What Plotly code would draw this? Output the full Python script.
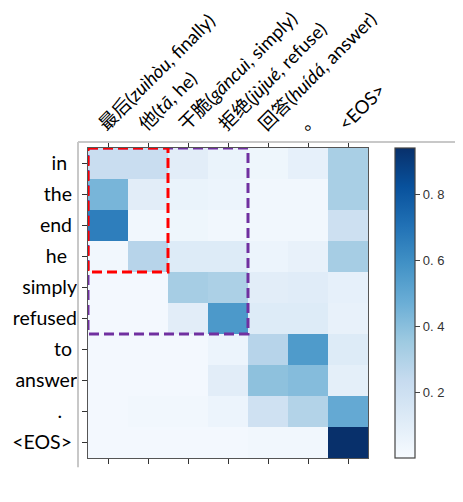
import plotly.graph_objects as go

src_labels = [
    "最后(<i>zuìhòu</i>, finally)",
    "他(<i>tā</i>, he)",
    "干脆(<i>gāncuì</i>, simply)",
    "拒绝(<i>jùjué</i>, refuse)",
    "回答(<i>huídá</i>, answer)",
    "。",
    "&lt;EOS&gt;",
]
tgt_labels = ["in&nbsp;&nbsp;", "the&nbsp;", "end&nbsp;", "he&nbsp;&nbsp;", "simply", "refused",
              "to&nbsp;", "answer", ".&nbsp;&nbsp;&nbsp;", "&lt;EOS&gt;&nbsp;"]

attention = [
    [0.22, 0.22, 0.10, 0.06, 0.04, 0.08, 0.32],
    [0.44, 0.10, 0.06, 0.05, 0.03, 0.03, 0.32],
    [0.66, 0.03, 0.04, 0.03, 0.03, 0.03, 0.20],
    [0.03, 0.28, 0.12, 0.12, 0.05, 0.07, 0.33],
    [0.02, 0.02, 0.33, 0.31, 0.10, 0.11, 0.08],
    [0.02, 0.02, 0.10, 0.56, 0.12, 0.12, 0.07],
    [0.02, 0.02, 0.02, 0.05, 0.28, 0.55, 0.12],
    [0.02, 0.02, 0.02, 0.10, 0.39, 0.41, 0.09],
    [0.02, 0.03, 0.03, 0.05, 0.19, 0.29, 0.49],
    [0.02, 0.02, 0.02, 0.02, 0.03, 0.03, 0.94],
]
cbar_vals = [0.2, 0.4, 0.6, 0.8]
cbar_text = ["0. 2", "0. 4", "0. 6", "0. 8"]

# highlighted alignment blocks: (first col, last col, first row, last row, colour)
boxes = [
    (0, 3, 0, 5, "#7030a0"),
    (0, 1, 0, 3, "#ff0000"),
]

OFF = 8  # default page body margin
W, H = 463 - OFF, 502 - OFF
L, T = 88 - OFF, 148 - OFF
PW, PH = 280, 310
R, B = W - L - PW, H - T - PH

fig = go.Figure()

fig.add_trace(go.Heatmap(
    z=attention,
    x=list(range(len(src_labels))),
    y=list(range(len(tgt_labels))),
    colorscale="Blues",
    zmin=0.0, zmax=0.94,
    colorbar=dict(
        thickness=20, thicknessmode="pixels",
        len=1, lenmode="fraction", y=0, yanchor="bottom", ypad=0,
        x=(395 - 88) / PW, xanchor="left", xpad=0,
        outlinewidth=1.2, outlinecolor="#444",
        tickvals=cbar_vals, ticktext=cbar_text,
        ticks="outside", ticklen=5, tickcolor="#444",
        tickfont=dict(family="Liberation Sans, Arial", size=13, color="#333"),
    ),
))

for c0, c1, r0, r1, col in boxes:
    fig.add_shape(type="rect", xref="x", yref="y",
                  x0=c0 - 0.5, x1=c1 + 0.5, y0=r0 - 0.5, y1=r1 + 0.5,
                  line=dict(color=col, width=3, dash="10px,5px"))

# faint frame of the original figure crop
fx = (78 - 88) / PW
fy = (458 - 142) / PH
frame = dict(color="#c8c8c8", width=2)
fig.add_shape(type="line", xref="paper", yref="paper",
              x0=fx, x1=1.33, y0=fy, y1=fy, line=frame)
fig.add_shape(type="line", xref="paper", yref="paper",
              x0=fx, x1=fx, y0=fy, y1=-0.03, line=frame)

fam = "Lato, Noto Sans CJK SC"
fig.update_layout(
    width=W, height=H,
    margin=dict(l=L, r=R, t=T, b=B, autoexpand=False),
    paper_bgcolor="white", plot_bgcolor="white",
    xaxis=dict(
        side="top", tickvals=list(range(len(src_labels))), ticktext=src_labels,
        tickangle=-45, ticks="outside", ticklen=5, tickcolor="#333",
        showline=True, linecolor="#555", linewidth=1.2, mirror="ticks",
        range=[-0.5, len(src_labels) - 0.5], showgrid=False, zeroline=False,
        tickfont=dict(family=fam, size=18.5, color="#000"), automargin=False,
        ticklabelshift=-8,
    ),
    yaxis=dict(
        tickvals=list(range(len(tgt_labels))), ticktext=tgt_labels,
        autorange=False, range=[len(tgt_labels) - 0.5, -0.5],
        ticks="outside", ticklen=5, tickcolor="#333",
        showline=True, linecolor="#555", linewidth=1.2, mirror=True,
        showgrid=False, zeroline=False, automargin=False,
        tickfont=dict(family=fam, size=19.5, color="#000"),
        ticklabelstandoff=1,
    ),
)

fig.write_html("out.html")
